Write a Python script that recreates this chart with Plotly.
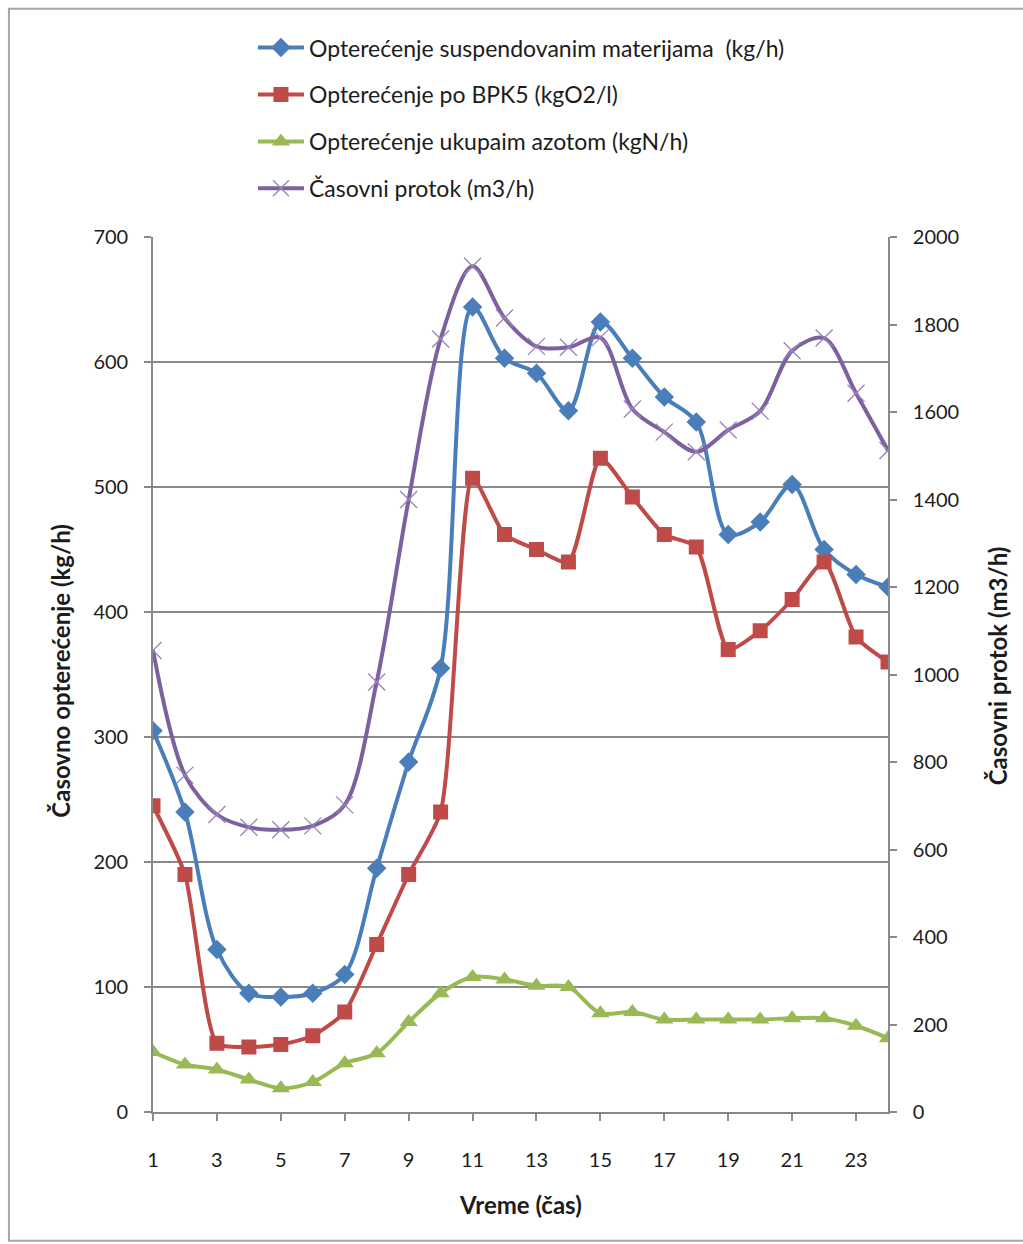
import plotly.graph_objects as go

# Hour of day (category axis)
hours = list(range(1, 25))

# Hourly loads, kg/h (left axis)
suspendovane = [305, 240, 130, 95, 92, 95, 110, 195, 280, 355, 644, 603,
                591, 561, 632, 603, 572, 552, 462, 472, 502, 450, 430, 420]
bpk5 = [245, 190, 55, 52, 54, 61, 80, 134, 190, 240, 507, 462,
        450, 440, 523, 492, 462, 452, 370, 385, 410, 440, 380, 360]
azot = [48, 38, 34, 26, 19, 24, 39, 47, 72, 95, 108, 106,
        101, 100, 79, 80, 74, 74, 74, 74, 75, 75, 69, 59]

# Hourly flow, m3/h (right axis)
protok = [1055, 770, 680, 651, 645, 654, 702, 983, 1400, 1767, 1933, 1815,
          1750, 1748, 1770, 1607, 1554, 1509, 1559, 1602, 1740, 1769, 1643, 1512]

x_ticks = list(range(1, 24, 2))
left_ticks = list(range(0, 701, 100))
right_ticks = list(range(0, 2001, 200))

names = [
    "Opterećenje suspendovanim materijama  (kg/h)",
    "Opterećenje po BPK5 (kgO2/l)",
    "Opterećenje ukupaim azotom (kgN/h)",
    "Časovni protok (m3/h)",
]

FONT = "Lato"
GRID = "#8a8a8a"
TXT = "#1c1c1c"

fig = go.Figure()

fig.add_trace(go.Scatter(
    x=hours, y=suspendovane, name=names[0], legendgroup="a",
    mode="lines+markers",
    line=dict(color="#4A7EBB", width=4, shape="spline", smoothing=0.9),
    marker=dict(symbol="diamond", size=15, color="#4A7EBB"),
))
fig.add_trace(go.Scatter(
    x=hours, y=bpk5, name=names[1], legendgroup="b",
    mode="lines+markers",
    line=dict(color="#BE4B48", width=4, shape="spline", smoothing=0.6),
    marker=dict(symbol="square", size=15, color="#BE4B48"),
))
fig.add_trace(go.Scatter(
    x=hours, y=azot, name=names[2], legendgroup="c",
    mode="lines+markers",
    line=dict(color="#98B954", width=4, shape="spline", smoothing=0.9),
    marker=dict(symbol="triangle-up", size=16, color="#98B954"),
))
fig.add_trace(go.Scatter(
    x=hours, y=protok, name=names[3], legendgroup="d", yaxis="y2",
    mode="lines+markers",
    line=dict(color="#7D60A0", width=4, shape="spline", smoothing=0.9),
    marker=dict(symbol="x-thin", size=17,
                line=dict(color="#9a82ba", width=1.3)),
))

axis_common = dict(
    showline=True, linecolor=GRID, linewidth=1.6,
    ticks="outside", ticklen=7, tickcolor=GRID, tickwidth=1.6,
    tickfont=dict(family=FONT, size=20, color=TXT),
    zeroline=False,
)

fig.update_layout(
    width=1023, height=1244,
    margin=dict(l=153, r=135, t=237, b=132),
    paper_bgcolor="white", plot_bgcolor="white",
    font=dict(family=FONT, color=TXT),
    showlegend=True,
    legend=dict(
        x=0.136, y=1.241, xanchor="left", yanchor="top",
        font=dict(family=FONT, size=23, color=TXT),
        tracegroupgap=14, bgcolor="rgba(0,0,0,0)",
        itemwidth=46,
    ),
    xaxis=dict(
        range=[1, 24], tickmode="array", tickvals=x_ticks,
        showgrid=False, ticklabelstandoff=22, **axis_common,
    ),
    yaxis=dict(
        range=[0, 700], tickmode="array", tickvals=left_ticks,
        showgrid=True, gridcolor=GRID, gridwidth=1.6,
        ticklabelstandoff=12, **axis_common,
    ),
    yaxis2=dict(
        range=[0, 2000], tickmode="array", tickvals=right_ticks,
        overlaying="y", side="right", showgrid=False,
        ticklabelstandoff=12, **axis_common,
    ),
)

# Axis titles
fig.add_annotation(
    text="<b>Vreme (čas)</b>", xref="paper", yref="paper",
    x=0.5, y=-0.106, xanchor="center", yanchor="middle", showarrow=False,
    font=dict(family=FONT, size=24, color=TXT),
)
fig.add_annotation(
    text="<b>Časovno opterećenje (kg/h)</b>", xref="paper", yref="paper",
    x=-0.127, y=0.504, xanchor="center", yanchor="middle", showarrow=False,
    textangle=-90, font=dict(family=FONT, size=24, color=TXT),
)
fig.add_annotation(
    text="<b>Časovni protok (m3/h)</b>", xref="paper", yref="paper",
    x=1.149, y=0.51, xanchor="center", yanchor="middle", showarrow=False,
    textangle=-90, font=dict(family=FONT, size=24, color=TXT),
)

# Chart-area frame
fig.add_shape(
    type="rect", xref="paper", yref="paper",
    x0=-0.196, x1=1.185, y0=-0.147, y1=1.261,
    line=dict(color="#a6a6a6", width=2), fillcolor="rgba(0,0,0,0)",
    layer="below",
)

fig.write_html("out.html")
